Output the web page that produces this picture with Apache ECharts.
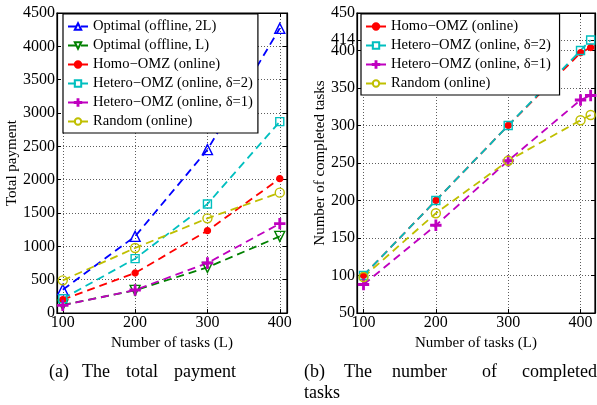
<!DOCTYPE html>
<html><head><meta charset="utf-8">
<script src="https://cdn.jsdelivr.net/npm/echarts@6/dist/echarts.min.js"></script>
<style>html,body{margin:0;padding:0;background:#fff}#c{width:597px;height:405px}</style>
</head><body><div id="c"></div>
<script>
// Left chart (a): total payment
const tasksA = [100, 200, 300, 400];
const optimal2L = [350, 1150, 2450, 4270];
const optimalL = [120, 340, 685, 1150];
const homoA = [200, 600, 1235, 2015];
const hetero2A = [215, 815, 1635, 2870];
const hetero1A = [115, 345, 750, 1340];
const randomA = [490, 975, 1420, 1805];
// Right chart (b): number of completed tasks
const tasksB = [100, 200, 300, 400, 414];
const homoB = [100, 200, 300, 397, 404];
const hetero2B = [100, 200, 300, 400, 414];
const hetero1B = [88, 167, 253, 334, 340];
const randomB = [98, 183, 253, 307, 314];
const xTicks = [100, 200, 300, 400];
const yTicksB = [50, 100, 150, 200, 250, 300, 350, 400, 414, 450];

const FONT = 'Liberation Serif';
const C = {blue:'#0000ff', green:'#008000', red:'#ff0000', cyan:'#00bfbf', magenta:'#bf00bf', yellow:'#bfbf00'};
const PLUS = 'path://M4.3,0 L5.7,0 L5.7,4.3 L10,4.3 L10,5.7 L5.7,5.7 L5.7,10 L4.3,10 L4.3,5.7 L0,5.7 L0,4.3 L4.3,4.3 Z';
const TRI_DOWN = 'path://M0,0 L10,0 L5,9 Z';

function pairs(xs, ys){ return xs.map((x,i)=>[x, ys[i]]); }
function ser(name, xs, ys, color, symbol, size, filled, gi){
  return {
    name, type:'line', xAxisIndex: gi * 2, yAxisIndex: gi * 2, data: pairs(xs, ys),
    symbol, symbolSize: size, showAllSymbol: true,
    lineStyle: {color, width: 1.8, type: [8, 5]},
    itemStyle: {color: filled ? color : 'rgba(255,255,255,0)', borderColor: color, borderWidth: 1.4},
    emphasis: {disabled: true}, z: 3
  };
}
const tickLabel = {fontFamily: FONT, fontSize: 16, color: '#000', formatter: v => String(v)};
const nameStyle = {fontFamily: FONT, fontSize: 15, color: '#000'};
const dotted = {show: true, lineStyle: {color: '#333', type: [1, 2], width: 0.8}};
const axLine = {show: true, onZero: false, lineStyle: {color:'#000', width: 1.2}};
function xAx(gi, min, max){
  return {type:'value', gridIndex: gi, min, max, interval: 100,
    name: 'Number of tasks (L)', nameLocation: 'middle', nameGap: 18,
    nameTextStyle: nameStyle, axisLine: axLine,
    axisTick: {show: true, inside: true, length: 4, lineStyle: {color:'#000'}, customValues: xTicks},
    axisLabel: Object.assign({margin: 2, customValues: xTicks}, tickLabel),
    splitLine: dotted};
}
function xTop(gi, min, max){
  return {type:'value', gridIndex: gi, position: 'top', min, max, interval: 100,
    axisLine: axLine,
    axisTick: {show: true, inside: true, length: 4, lineStyle: {color:'#000'}, customValues: xTicks},
    axisLabel: {show: false}, splitLine: {show: false}};
}
function yRight(gi, min, max, interval, ticks){
  const t = {show: true, inside: true, length: 4, lineStyle: {color:'#000'}};
  if (ticks) t.customValues = ticks;
  return {type:'value', gridIndex: gi, position: 'right', min, max, interval,
    axisLine: axLine, axisTick: t, axisLabel: {show: false}, splitLine: {show: false}};
}
const option = {
  animation: false,
  backgroundColor: '#fff',
  grid: [
    {left: 57, top: 13, width: 230, height: 300, show: true, borderColor: '#000', borderWidth: 1.2, backgroundColor: 'transparent'},
    {left: 357, top: 13, width: 238, height: 300, show: true, borderColor: '#000', borderWidth: 1.2, backgroundColor: 'transparent'}
  ],
  xAxis: [xAx(0, 92, 410), xTop(0, 92, 410), xAx(1, 91, 420), xTop(1, 91, 420)],
  yAxis: [
    {type:'value', gridIndex: 0, min: 0, max: 4500, interval: 500,
      name: 'Total payment', nameLocation: 'middle', nameGap: 37,
      nameTextStyle: nameStyle, axisLine: axLine,
      axisTick: {show: true, inside: true, length: 4, lineStyle: {color:'#000'}},
      axisLabel: Object.assign({margin: 2}, tickLabel), splitLine: dotted},
    yRight(0, 0, 4500, 500, null),
    {type:'value', gridIndex: 1, min: 50, max: 450, interval: 50,
      name: 'Number of completed tasks', nameLocation: 'middle', nameGap: 27,
      nameTextStyle: nameStyle, axisLine: axLine,
      axisTick: {show: true, inside: true, length: 4, lineStyle: {color:'#000'}, customValues: yTicksB},
      axisLabel: Object.assign({margin: 2, customValues: yTicksB}, tickLabel), splitLine: dotted},
    yRight(1, 50, 450, 50, yTicksB)
  ],
  legend: [
    {left: 63, top: 14, orient: 'vertical', itemWidth: 20, itemHeight: 8, itemGap: 4,
      padding: [5, 5, 4, 4], backgroundColor: '#fff', borderColor: '#000', borderWidth: 1.2,
      textStyle: {fontFamily: FONT, fontSize: 14.6, color: '#000'},
      data: ['Optimal (offline, 2L)', 'Optimal (offline, L)', 'Homo−OMZ (online)', 'Hetero−OMZ (online, δ=2)', 'Hetero−OMZ (online, δ=1)', 'Random (online)']},
    {left: 361, top: 14, orient: 'vertical', itemWidth: 20, itemHeight: 8, itemGap: 4,
      padding: [5, 5, 4, 4], backgroundColor: '#fff', borderColor: '#000', borderWidth: 1.2,
      textStyle: {fontFamily: FONT, fontSize: 14.6, color: '#000'},
      data: ['Homo−OMZ (online) ', 'Hetero−OMZ (online, δ=2) ', 'Hetero−OMZ (online, δ=1) ', 'Random (online) ']}
  ],
  series: [
    ser('Optimal (offline, 2L)', tasksA, optimal2L, C.blue, 'triangle', 10, false, 0),
    ser('Optimal (offline, L)', tasksA, optimalL, C.green, TRI_DOWN, 10, false, 0),
    ser('Homo−OMZ (online)', tasksA, homoA, C.red, 'circle', 6, true, 0),
    ser('Hetero−OMZ (online, δ=2)', tasksA, hetero2A, C.cyan, 'rect', 8, false, 0),
    ser('Hetero−OMZ (online, δ=1)', tasksA, hetero1A, C.magenta, PLUS, 10, true, 0),
    ser('Random (online)', tasksA, randomA, C.yellow, 'circle', 9, false, 0),
    ser('Homo−OMZ (online) ', tasksB, homoB, C.red, 'circle', 6, true, 1),
    ser('Hetero−OMZ (online, δ=2) ', tasksB, hetero2B, C.cyan, 'rect', 8, false, 1),
    ser('Hetero−OMZ (online, δ=1) ', tasksB, hetero1B, C.magenta, PLUS, 10, true, 1),
    ser('Random (online) ', tasksB, randomB, C.yellow, 'circle', 9, false, 1)
  ],
  graphic: [
    {type:'text', left: 49, top: 363, style: {text: '(a)', fontFamily: FONT, fontSize: 18, fill: '#000'}},
    {type:'text', left: 82, top: 363, style: {text: 'The', fontFamily: FONT, fontSize: 18, fill: '#000'}},
    {type:'text', left: 126, top: 363, style: {text: 'total', fontFamily: FONT, fontSize: 18, fill: '#000'}},
    {type:'text', left: 174, top: 363, style: {text: 'payment', fontFamily: FONT, fontSize: 18, fill: '#000'}},
    {type:'text', left: 304, top: 363, style: {text: '(b)', fontFamily: FONT, fontSize: 18, fill: '#000'}},
    {type:'text', left: 344, top: 363, style: {text: 'The', fontFamily: FONT, fontSize: 18, fill: '#000'}},
    {type:'text', left: 392, top: 363, style: {text: 'number', fontFamily: FONT, fontSize: 18, fill: '#000'}},
    {type:'text', left: 482, top: 363, style: {text: 'of', fontFamily: FONT, fontSize: 18, fill: '#000'}},
    {type:'text', left: 522, top: 363, style: {text: 'completed', fontFamily: FONT, fontSize: 18, fill: '#000'}},
    {type:'text', left: 304, top: 384, style: {text: 'tasks', fontFamily: FONT, fontSize: 18, fill: '#000'}}
  ]
};
const chart = echarts.init(document.getElementById('c'), null, {renderer: 'canvas'});
chart.setOption(option);
</script></body></html>
